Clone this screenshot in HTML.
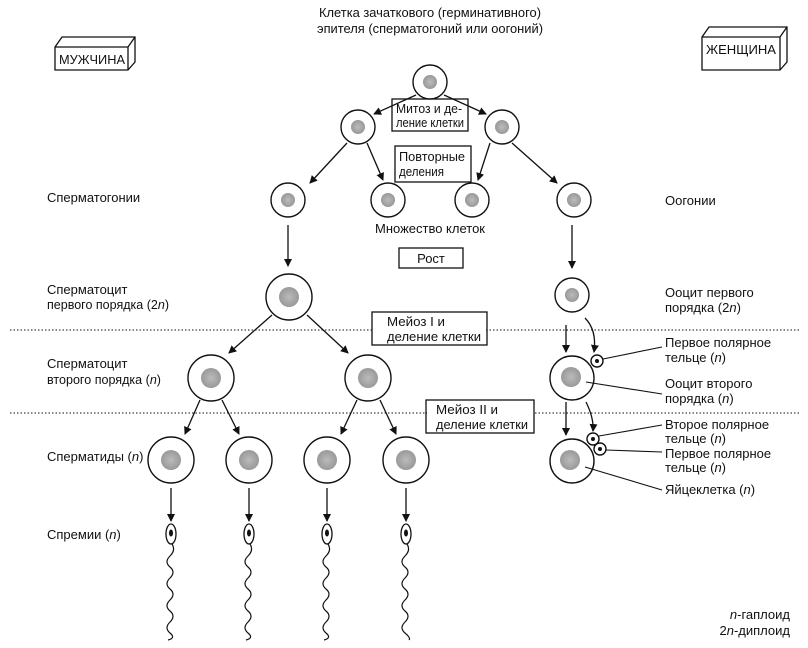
<!DOCTYPE html>
<html><head><meta charset="utf-8"><style>
html,body{margin:0;padding:0;background:#fff;}
svg text{font-family:"Liberation Sans",sans-serif;font-size:13px;fill:#111;}
</style></head><body>
<svg width="808" height="643" viewBox="0 0 808 643" xmlns="http://www.w3.org/2000/svg">
<defs>
<marker id="a" markerWidth="8" markerHeight="8" refX="7" refY="4" orient="auto" markerUnits="userSpaceOnUse"><path d="M0,0 L8,4 L0,8 Z" fill="#111"/></marker>
<radialGradient id="g"><stop offset="0" stop-color="#bbb"/><stop offset="1" stop-color="#999"/></radialGradient>
</defs>
<g stroke="#111" stroke-width="1.3" fill="none">
<path d="M55,47 L62,37 L135,37 L135,62 L128,70 L55,70 Z M55,47 L128,47 L135,37 M128,47 L128,70" fill="#fff"/>
<path d="M702,37 L709,27 L787,27 L787,62 L780,70 L702,70 Z M702,37 L780,37 L787,27 M780,37 L780,70" fill="#fff"/>
<rect x="392" y="99" width="76" height="32"/>
<rect x="395" y="146" width="76" height="36"/>
<rect x="399" y="248" width="64" height="20"/>
<line x1="10" y1="330" x2="800" y2="330" stroke-dasharray="1.5,2" stroke-width="1"/>
<line x1="10" y1="413" x2="800" y2="413" stroke-dasharray="1.5,2" stroke-width="1"/>
</g>
<rect x="373" y="313" width="113" height="31" fill="#fff"/>
<rect x="427" y="401" width="106" height="31" fill="#fff"/>
<g stroke="#111" stroke-width="1.3" fill="none">
<rect x="372" y="312" width="115" height="33"/>
<rect x="426" y="400" width="108" height="33"/>
</g>
<g stroke="#111" stroke-width="1.3" fill="none" marker-end="url(#a)">
<line x1="416" y1="95" x2="374" y2="114"/>
<line x1="444" y1="95" x2="486" y2="114"/>
<line x1="347" y1="143" x2="310" y2="183"/>
<line x1="367" y1="143" x2="383" y2="180"/>
<line x1="490" y1="143" x2="478" y2="180"/>
<line x1="512" y1="143" x2="557" y2="183"/>
<line x1="288" y1="225" x2="288" y2="266"/>
<line x1="572" y1="225" x2="572" y2="268"/>
<line x1="272" y1="315" x2="229" y2="353"/>
<line x1="307" y1="315" x2="348" y2="353"/>
<line x1="200" y1="400" x2="185" y2="434"/>
<line x1="222" y1="400" x2="239" y2="434"/>
<line x1="357" y1="400" x2="341" y2="434"/>
<line x1="380" y1="400" x2="396" y2="434"/>
<line x1="566" y1="325" x2="566" y2="352"/>
<path d="M585,318 Q597,330 594,352"/>
<line x1="566" y1="402" x2="566" y2="435"/>
<path d="M586,402 Q594,418 593,431"/>
<line x1="171" y1="488" x2="171" y2="521"/>
<line x1="249" y1="488" x2="249" y2="521"/>
<line x1="327" y1="488" x2="327" y2="521"/>
<line x1="406" y1="488" x2="406" y2="521"/>
</g>
<g stroke="#111" stroke-width="1.4" fill="#fff">
<circle cx="430" cy="82" r="17"/>
<circle cx="358" cy="127" r="17"/><circle cx="502" cy="127" r="17"/>
<circle cx="288" cy="200" r="17"/><circle cx="388" cy="200" r="17"/><circle cx="472" cy="200" r="17"/><circle cx="574" cy="200" r="17"/>
<circle cx="289" cy="297" r="23"/><circle cx="572" cy="295" r="17"/>
<circle cx="211" cy="378" r="23"/><circle cx="368" cy="378" r="23"/><circle cx="572" cy="378" r="22"/>
<circle cx="171" cy="460" r="23"/><circle cx="249" cy="460" r="23"/><circle cx="327" cy="460" r="23"/><circle cx="406" cy="460" r="23"/><circle cx="572" cy="461" r="22"/>
<circle cx="597" cy="361" r="6"/><circle cx="593" cy="439" r="6"/><circle cx="600" cy="449" r="6"/>
</g>
<g fill="url(#g)">
<circle cx="430" cy="82" r="7"/>
<circle cx="358" cy="127" r="7"/><circle cx="502" cy="127" r="7"/>
<circle cx="288" cy="200" r="7"/><circle cx="388" cy="200" r="7"/><circle cx="472" cy="200" r="7"/><circle cx="574" cy="200" r="7"/>
<circle cx="289" cy="297" r="10"/><circle cx="572" cy="295" r="7"/>
<circle cx="211" cy="378" r="10"/><circle cx="368" cy="378" r="10"/><circle cx="571" cy="377" r="10"/>
<circle cx="171" cy="460" r="10"/><circle cx="249" cy="460" r="10"/><circle cx="327" cy="460" r="10"/><circle cx="406" cy="460" r="10"/><circle cx="570" cy="460" r="10"/>
</g>
<g fill="#111"><circle cx="597" cy="361" r="2"/><circle cx="593" cy="439" r="2"/><circle cx="600" cy="449" r="2"/></g>
<g stroke="#111" stroke-width="1.1">
<line x1="603" y1="359" x2="662" y2="347"/>
<line x1="586" y1="382" x2="662" y2="394"/>
<line x1="599" y1="436" x2="662" y2="425"/>
<line x1="606" y1="450" x2="662" y2="452"/>
<line x1="585" y1="467" x2="662" y2="490"/>
</g>
<g stroke="#111" stroke-width="1.3" fill="#fff">
<ellipse cx="171" cy="534" rx="5" ry="10"/><ellipse cx="249" cy="534" rx="5" ry="10"/><ellipse cx="327" cy="534" rx="5" ry="10"/><ellipse cx="406" cy="534" rx="5" ry="10"/>
</g>
<g fill="#111"><ellipse cx="171" cy="533" rx="2" ry="3.5"/><ellipse cx="249" cy="533" rx="2" ry="3.5"/><ellipse cx="327" cy="533" rx="2" ry="3.5"/><ellipse cx="406" cy="533" rx="2" ry="3.5"/></g>
<g stroke="#111" stroke-width="1.2" fill="none">
<path d="M172,544 Q176,550 170,556 T170,567 T170,578 T170,589 T170,600 T170,611 T170,622 T170,633 T168,640"/>
<path d="M250,544 Q254,550 248,556 T248,567 T248,578 T248,589 T248,600 T248,611 T248,622 T248,633 T246,640"/>
<path d="M328,544 Q332,550 326,556 T326,567 T326,578 T326,589 T326,600 T326,611 T326,622 T326,633 T324,640"/>
<path d="M407,544 Q411,550 405,556 T405,567 T405,578 T405,589 T405,600 T405,611 T405,622 T405,633 T409,640"/>
</g>
<text x="430" y="17" text-anchor="middle" textLength="222" lengthAdjust="spacingAndGlyphs">Клетка зачаткового (герминативного)</text>
<text x="430" y="33" text-anchor="middle" textLength="226" lengthAdjust="spacingAndGlyphs">эпителя (сперматогоний или оогоний)</text>
<text x="59" y="64" textLength="66" lengthAdjust="spacingAndGlyphs">МУЖЧИНА</text>
<text x="706" y="54" textLength="70" lengthAdjust="spacingAndGlyphs">ЖЕНЩИНА</text>
<text x="396" y="113" textLength="66" lengthAdjust="spacingAndGlyphs">Митоз и де-</text>
<text x="396" y="127" textLength="68" lengthAdjust="spacingAndGlyphs">ление клетки</text>
<text x="399" y="161" textLength="66" lengthAdjust="spacingAndGlyphs">Повторные</text>
<text x="399" y="176" textLength="45" lengthAdjust="spacingAndGlyphs">деления</text>
<text x="430" y="233" text-anchor="middle" textLength="110" lengthAdjust="spacingAndGlyphs">Множество клеток</text>
<text x="431" y="263" text-anchor="middle">Рост</text>
<text x="387" y="326" textLength="58" lengthAdjust="spacingAndGlyphs">Мейоз I и</text>
<text x="387" y="341" textLength="94" lengthAdjust="spacingAndGlyphs">деление клетки</text>
<text x="436" y="414" textLength="62" lengthAdjust="spacingAndGlyphs">Мейоз II и</text>
<text x="436" y="429" textLength="92" lengthAdjust="spacingAndGlyphs">деление клетки</text>
<text x="47" y="202">Сперматогонии</text>
<text x="47" y="294">Сперматоцит</text>
<text x="47" y="309" textLength="122" lengthAdjust="spacingAndGlyphs">первого порядка (2<tspan font-style="italic">n</tspan>)</text>
<text x="47" y="368">Сперматоцит</text>
<text x="47" y="384" textLength="114" lengthAdjust="spacingAndGlyphs">второго порядка (<tspan font-style="italic">n</tspan>)</text>
<text x="47" y="461">Сперматиды (<tspan font-style="italic">n</tspan>)</text>
<text x="47" y="539">Спремии (<tspan font-style="italic">n</tspan>)</text>
<text x="665" y="205">Оогонии</text>
<text x="665" y="297">Ооцит первого</text>
<text x="665" y="312">порядка (2<tspan font-style="italic">n</tspan>)</text>
<text x="665" y="347">Первое полярное</text>
<text x="665" y="362">тельце (<tspan font-style="italic">n</tspan>)</text>
<text x="665" y="388">Ооцит второго</text>
<text x="665" y="403">порядка (<tspan font-style="italic">n</tspan>)</text>
<text x="665" y="429">Второе полярное</text>
<text x="665" y="443">тельце (<tspan font-style="italic">n</tspan>)</text>
<text x="665" y="458">Первое полярное</text>
<text x="665" y="472">тельце (<tspan font-style="italic">n</tspan>)</text>
<text x="665" y="494">Яйцеклетка (<tspan font-style="italic">n</tspan>)</text>
<text x="790" y="619" text-anchor="end"><tspan font-style="italic">n</tspan>-гаплоид</text>
<text x="790" y="635" text-anchor="end">2<tspan font-style="italic">n</tspan>-диплоид</text>
</svg>
</body></html>
